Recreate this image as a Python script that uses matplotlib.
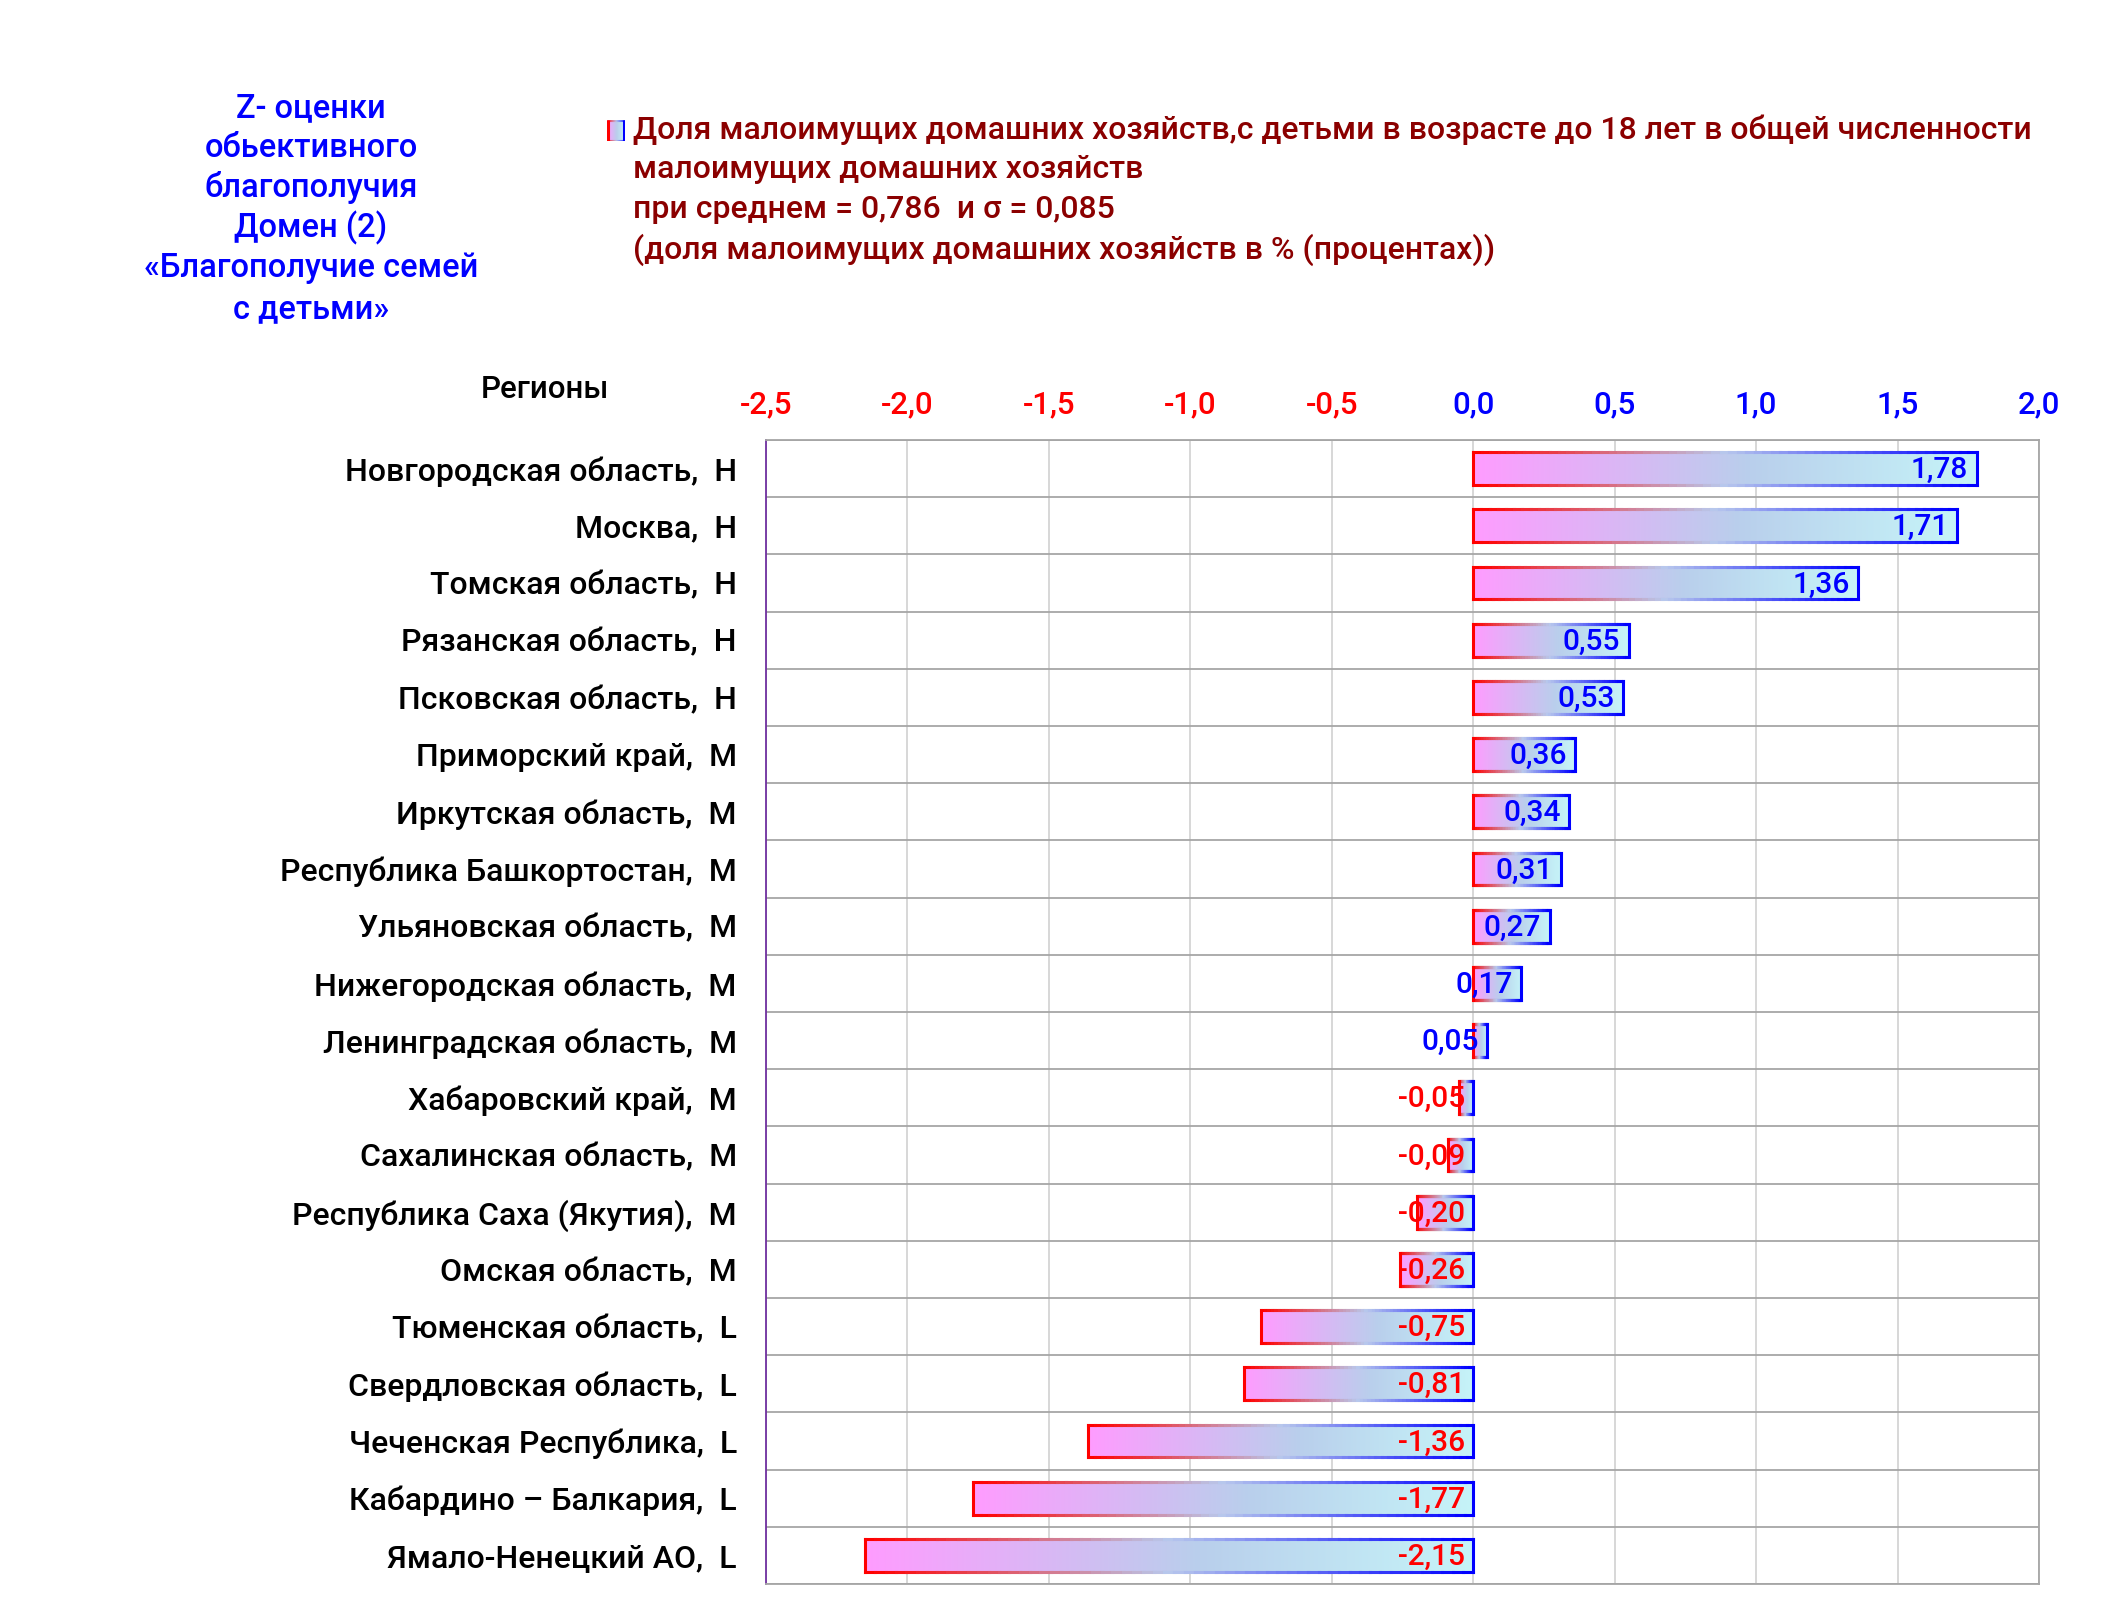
import numpy as np
import matplotlib
matplotlib.use("Agg")
import matplotlib.pyplot as plt
from matplotlib.colors import LinearSegmentedColormap
from matplotlib.collections import LineCollection

plt.rcParams['font.family'] = ['Roboto', 'DejaVu Sans']

regions = [
    "Новгородская область,  Н", "Москва,  Н", "Томская область,  Н",
    "Рязанская область,  Н", "Псковская область,  Н", "Приморский край,  М",
    "Иркутская область,  М", "Республика Башкортостан,  М", "Ульяновская область,  М",
    "Нижегородская область,  М", "Ленинградская область,  М", "Хабаровский край,  М",
    "Сахалинская область,  М", "Республика Саха (Якутия),  М", "Омская область,  М",
    "Тюменская область,  L", "Свердловская область,  L", "Чеченская Республика,  L",
    "Кабардино – Балкария,  L", "Ямало-Ненецкий АО,  L",
]
values = [1.78, 1.71, 1.36, 0.55, 0.53, 0.36, 0.34, 0.31, 0.27, 0.17, 0.05,
          -0.05, -0.09, -0.20, -0.26, -0.75, -0.81, -1.36, -1.77, -2.15]
xticks = [-2.5, -2.0, -1.5, -1.0, -0.5, 0.0, 0.5, 1.0, 1.5, 2.0]

title_lines = ["Z- оценки", "обьективного", "благополучия", "Домен (2)",
               "«Благополучие семей", "с детьми»"]
legend_lines = [
    "Доля малоимущих домашних хозяйств,с детьми в возрасте до 18 лет в общей численности",
    "малоимущих домашних хозяйств",
    "при среднем = 0,786  и σ = 0,085",
    "(доля малоимущих домашних хозяйств в % (процентах))",
]

W, H = 2109, 1603
fig = plt.figure(figsize=(W / 100, H / 100), dpi=100)
ax = fig.add_axes([766 / W, 1 - 1584 / H, (2039 - 766) / W, (1584 - 440) / H])

fill_cmap = LinearSegmentedColormap.from_list(
    "fill", [(0, "#ff9cff"), (0.55, "#b9cfec"), (1, "#c6f4f8")])
edge_cmap = LinearSegmentedColormap.from_list(
    "edge", [(0, "#ff0000"), (0.5, "#b8c8ec"), (1, "#0000ff")])
grad = np.linspace(0, 1, 256).reshape(1, -1)

bh = 0.57
n = len(values)
for i, v in enumerate(values):
    x0, x1 = min(0, v), max(0, v)
    y0, y1 = i - bh / 2, i + bh / 2
    ax.imshow(grad, cmap=fill_cmap, extent=[x0, x1, y1, y0], aspect='auto',
              interpolation='bilinear', zorder=3)
    xs = np.linspace(x0, x1, 60)
    segs, cols = [], []
    for yy in (y0, y1):
        for k in range(len(xs) - 1):
            segs.append([(xs[k], yy), (xs[k + 1], yy)])
            cols.append(edge_cmap(k / (len(xs) - 2)))
    segs.append([(x0, y0), (x0, y1)]); cols.append(edge_cmap(0.0))
    segs.append([(x1, y0), (x1, y1)]); cols.append(edge_cmap(1.0))
    ax.add_collection(LineCollection(segs, colors=cols, linewidths=2.2,
                                     zorder=4, capstyle='projecting'))
    lab = f"{v:.2f}".replace(".", ",")
    ax.annotate(lab, xy=(x1, i), xytext=(-6, -1), textcoords='offset points',
                ha='right', va='center', fontsize=21.5, fontweight='medium',
                color='#0000ff' if v >= 0 else '#ff0000', zorder=5)

ax.set_xlim(-2.5, 2.0)
ax.set_ylim(n - 0.5, -0.5)
ax.set_yticks(range(n))
ax.set_yticklabels(regions, fontsize=23, fontweight='medium')
for lbl in ax.get_yticklabels():
    lbl.set_y(lbl.get_position()[1])
ax.tick_params(axis='y', length=0, pad=21)
ax.xaxis.tick_top()
ax.set_xticks(xticks)
ax.set_xticklabels([f"{t:.1f}".replace(".", ",") for t in xticks],
                   fontsize=22.5, fontweight='medium')
for lbl, t in zip(ax.get_xticklabels(), xticks):
    lbl.set_color('#ff0000' if t < 0 else '#0000ff')
ax.tick_params(axis='x', length=0, pad=15)

for t in xticks:
    ax.axvline(t, color='#d4d4d4', lw=1.3, zorder=1)
for k in range(n + 1):
    ax.axhline(k - 0.5, color='#a6a6a6', lw=1.3, zorder=1)
for s in ['top', 'right', 'bottom']:
    ax.spines[s].set_color('#a6a6a6')
    ax.spines[s].set_linewidth(1.3)
ax.spines['left'].set_color('#7030a0')
ax.spines['left'].set_linewidth(1.3)

fig.text(545 / W, 1 - 389 / H, "Регионы", ha='center', va='center',
         fontsize=22.5, fontweight='medium', color='black')

ty = [108, 148, 188, 228, 268, 309]
for line, y in zip(title_lines, ty):
    fig.text(311 / W, 1 - y / H, line, ha='center', va='center',
             fontsize=23.5, fontweight='medium', color='#0000ff')

ly = [130, 170, 210, 250]
for line, y in zip(legend_lines, ly):
    fig.text(633 / W, 1 - y / H, line, ha='left', va='center',
             fontsize=23, fontweight='medium', color='#8b0000')

lax = fig.add_axes([607 / W, 1 - 141 / H, 18 / W, 21 / H])
lax.imshow(grad, cmap=fill_cmap, extent=[0, 1, 0, 1], aspect='auto')
lax.set_xlim(0, 1); lax.set_ylim(0, 1)
lax.set_xticks([]); lax.set_yticks([])
for s in lax.spines.values():
    s.set_visible(False)
xs = np.linspace(0, 1, 20)
segs, cols = [], []
for yy in (0.02, 0.98):
    for k in range(len(xs) - 1):
        segs.append([(xs[k], yy), (xs[k + 1], yy)])
        cols.append(edge_cmap(k / (len(xs) - 2)))
segs.append([(0.04, 0), (0.04, 1)]); cols.append(edge_cmap(0.0))
segs.append([(0.96, 0), (0.96, 1)]); cols.append(edge_cmap(1.0))
lax.add_collection(LineCollection(segs, colors=cols, linewidths=2.2))

fig.savefig("out.png", dpi=100)
